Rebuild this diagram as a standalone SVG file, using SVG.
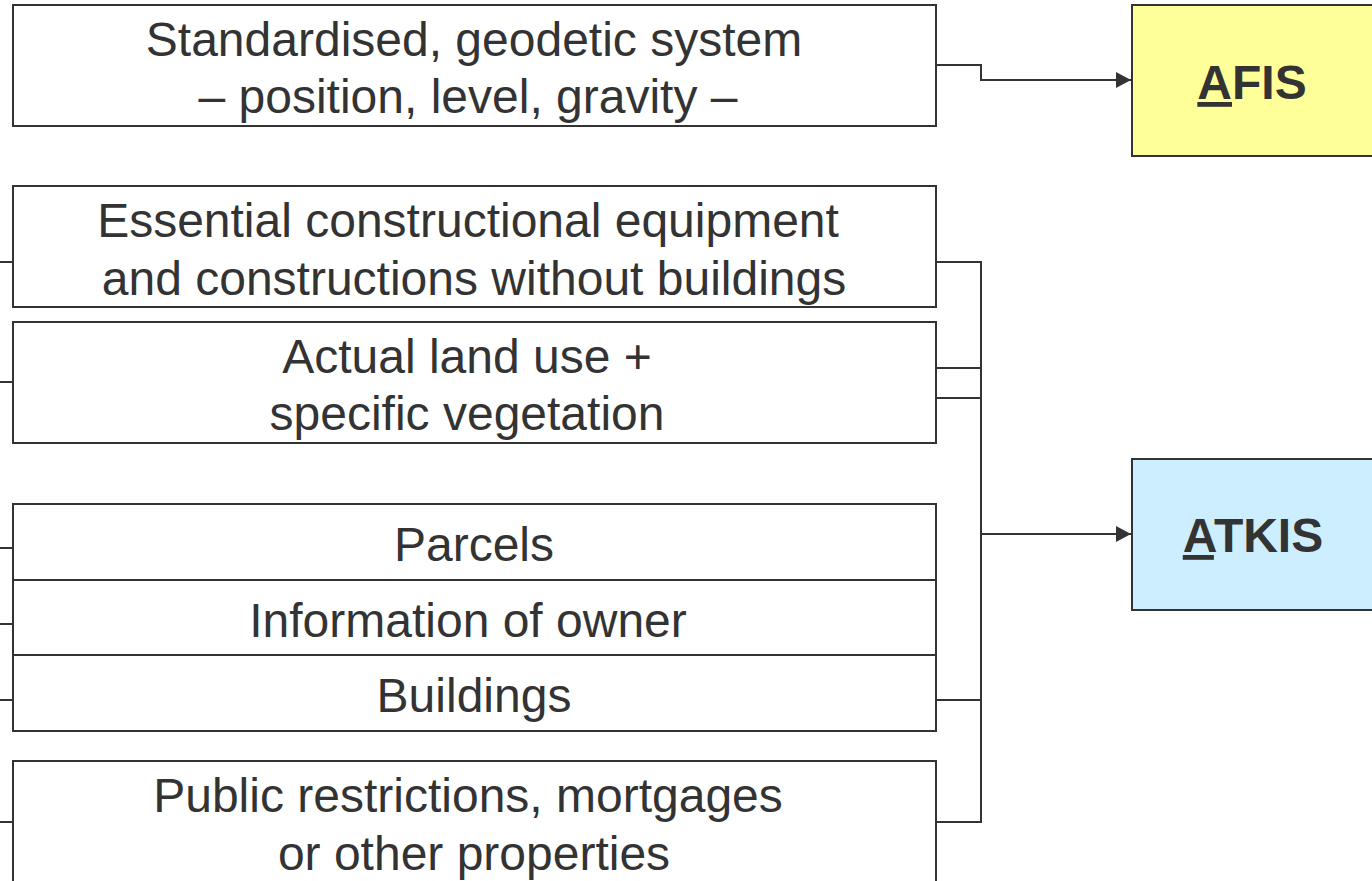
<svg xmlns="http://www.w3.org/2000/svg" width="1372" height="881" viewBox="0 0 1372 881">
<style>
.box{fill:#ffffff;stroke:#333333;stroke-width:2}
.t{font-family:"Liberation Sans",Arial,sans-serif;font-size:48px;fill:#333333;text-anchor:middle}
.tb{font-family:"Liberation Sans",Arial,sans-serif;font-size:48px;font-weight:bold;fill:#333333;text-anchor:middle}
.c{fill:none;stroke:#333333;stroke-width:2}
</style>
<defs>
<marker id="arr" viewBox="0 0 15 16" refX="15" refY="8" markerWidth="15" markerHeight="16" markerUnits="userSpaceOnUse" orient="auto">
<path d="M0,0 L15,8 L0,16 Z" fill="#333333"/>
</marker>
</defs>
<rect width="1372" height="881" fill="#ffffff"/>
<g id="connectors">
<polyline class="c" points="936,65 981,65 981,80 1131,80" marker-end="url(#arr)"/>
<line class="c" x1="936" y1="262" x2="981" y2="262"/>
<line class="c" x1="936" y1="368" x2="981" y2="368"/>
<line class="c" x1="936" y1="398" x2="981" y2="398"/>
<line class="c" x1="936" y1="700" x2="981" y2="700"/>
<line class="c" x1="936" y1="822" x2="981" y2="822"/>
<line class="c" x1="981" y1="261" x2="981" y2="823"/>
<line class="c" x1="981" y1="534" x2="1131" y2="534" marker-end="url(#arr)"/>
<line class="c" x1="0" y1="262" x2="13" y2="262"/>
<line class="c" x1="0" y1="382" x2="13" y2="382"/>
<line class="c" x1="0" y1="548" x2="13" y2="548"/>
<line class="c" x1="0" y1="624" x2="13" y2="624"/>
<line class="c" x1="0" y1="700" x2="13" y2="700"/>
<line class="c" x1="0" y1="822" x2="13" y2="822"/>
</g>
<g id="geodetic">
<rect class="box" x="13" y="5" width="923" height="121"/>
<text class="t" x="474" y="56">Standardised, geodetic system</text>
<text class="t" x="468" y="113">– position, level, gravity –</text>
</g>
<g id="essential">
<rect class="box" x="13" y="186" width="923" height="121"/>
<text class="t" x="468" y="237">Essential constructional equipment</text>
<text class="t" x="474" y="295">and constructions without buildings</text>
</g>
<g id="landuse">
<rect class="box" x="13" y="322" width="923" height="121"/>
<text class="t" x="467" y="373">Actual land use +</text>
<text class="t" x="467" y="430">specific vegetation</text>
</g>
<g id="parcels">
<rect class="box" x="13" y="504" width="923" height="76"/>
<text class="t" x="474" y="561">Parcels</text>
</g>
<g id="owner">
<rect class="box" x="13" y="580" width="923" height="75"/>
<text class="t" x="468" y="637">Information of owner</text>
</g>
<g id="buildings">
<rect class="box" x="13" y="655" width="923" height="76"/>
<text class="t" x="474" y="712">Buildings</text>
</g>
<g id="public">
<rect class="box" x="13" y="761" width="923" height="140"/>
<text class="t" x="468" y="812">Public restrictions, mortgages</text>
<text class="t" x="474" y="870">or other properties</text>
</g>
<g id="afis">
<rect x="1132" y="5" width="250" height="151" fill="#ffff99" stroke="#333333" stroke-width="2"/>
<text class="tb" x="1252" y="99"><tspan text-decoration="underline">A</tspan>FIS</text>
</g>
<g id="atkis">
<rect x="1132" y="459" width="250" height="151" fill="#cceeff" stroke="#333333" stroke-width="2"/>
<text class="tb" x="1253" y="552"><tspan text-decoration="underline">A</tspan>TKIS</text>
</g>
</svg>
